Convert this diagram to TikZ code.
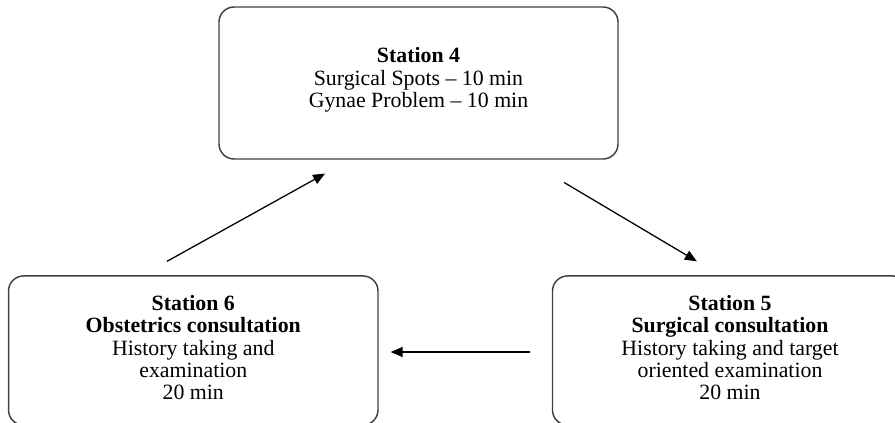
\documentclass[tikz,border=0pt]{standalone}
\usepackage{fontspec}
\setmainfont{Liberation Serif}
\usetikzlibrary{arrows.meta,calc}

\begin{document}
\begin{tikzpicture}
[x=0.55pt, y=-0.55pt, font=\fontsize{12}{12.3}\selectfont,
% STYLES
% The station style is used for the three rounded boxes
station/.style={rectangle, rounded corners=8.25pt, draw=black!75, line width=0.8pt, inner sep=0pt, align=center, minimum height=82pt},
% The flow style is used for the arrows between the stations
flow/.style={-{Triangle[length=6.6pt,width=5.5pt]}, line width=0.7pt}]

\path[use as bounding box, clip] (0,0) rectangle (895,423);

% Stations
\node [station, minimum width=219.45pt, minimum height=83.6pt, text depth=5.8pt] (st4) at (418.5,83) {\textbf{Station 4}\\ Surgical Spots -- 10 min\\ Gynae Problem -- 10 min};
\node [station, minimum width=195.25pt, text depth=3.3pt] (st5) at (730,350.5) {\textbf{Station 5}\\ \textbf{Surgical consultation}\\ History taking and target\\ oriented examination\\ 20 min};
\node [station, minimum width=203.2pt, text depth=3.3pt] (st6) at (193.25,350.5) {\textbf{Station 6}\\ \textbf{Obstetrics consultation}\\ History taking and\\ examination\\ 20 min};

%%%%%%%%%%%%%%%%

\draw[flow, shorten <=24.5pt, shorten >=15pt] ($(st4.south)+(107.3,0)$) -- ($(st5.north)+(-9.7,0)$);
\draw[flow, shorten <=11.8pt, shorten >=6.6pt] ($(st5.west)+(0,1.5)$) -- ($(st6.east)+(0,1.5)$);
\draw[flow, shorten <=15.7pt, shorten >=15.7pt] ($(st6.north)+(-51.3,0)$) -- ($(st4.south)+(-68.5,0)$);

\end{tikzpicture}
\end{document}
